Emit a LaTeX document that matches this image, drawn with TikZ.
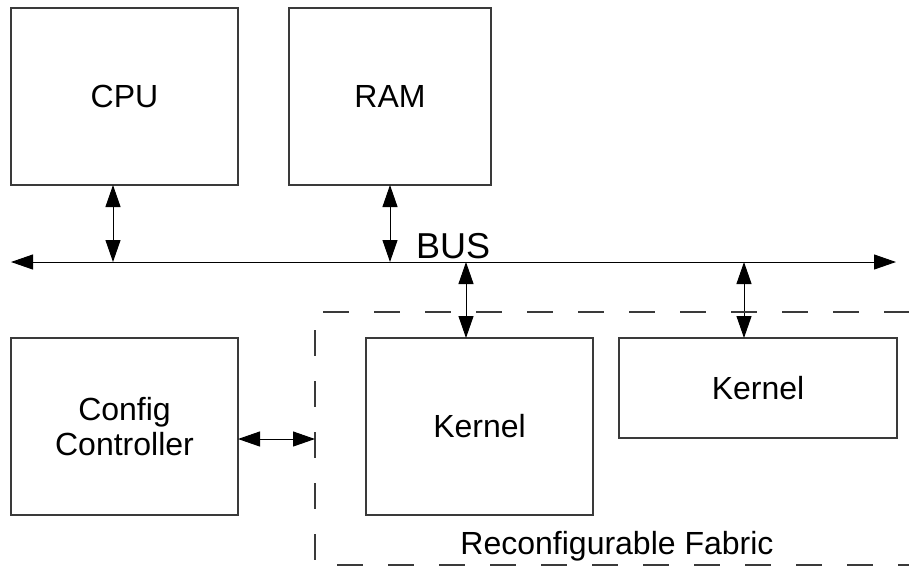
\documentclass[tikz,border=0pt]{standalone}
\usepackage{fontspec}
\setmainfont{Liberation Sans}
\usetikzlibrary{arrows.meta}
\definecolor{edge}{HTML}{3A3A3A}
\begin{document}
\begin{tikzpicture}[x=1pt,y=-1pt,
  box/.style={draw=edge,line width=1.4pt,inner sep=0pt,outer sep=0pt,
    font=\fontsize{32pt}{35pt}\selectfont,align=center},
  biarrow/.style={line width=1pt,{Triangle[length=22pt,width=15pt]}-{Triangle[length=22pt,width=15pt]}},
  dashline/.style={draw=edge,line width=1.4pt,dash pattern=on 26pt off 25pt},
  lbl/.style={font=\fontsize{32pt}{35pt}\selectfont,inner sep=0pt}]
\useasboundingbox (0,0) rectangle (909,566);
% boxes
\node[box,minimum width=227pt,minimum height=177pt] (cpu) at (124.5,96.5) {CPU};
\node[box,minimum width=202pt,minimum height=177pt] (ram) at (390,96.5) {RAM};
\node[box,minimum width=227pt,minimum height=177pt] (cfg) at (124.5,426.5) {Config\\Controller};
\node[box,minimum width=227pt,minimum height=177pt] (k1) at (479.5,426.5) {Kernel};
\node[box,minimum width=278pt,minimum height=100pt] (k2) at (758,388) {Kernel};
% bus
\coordinate (busL) at (11,262);
\coordinate (busR) at (896,262);
\draw[biarrow] (busL) -- (busR);
\node[inner sep=0pt,anchor=base west,font=\fontsize{36pt}{38pt}\selectfont] (buslbl) at (416,258) {BUS};
\coordinate (b1) at (113,262);
\coordinate (b3) at (466,262);
\coordinate (b4) at (744,262);
\draw[biarrow] (b1 |- cpu.south) -- (b1);
\draw[biarrow] (ram.south) -- (ram.south |- busL);
\draw[biarrow] (b3) -- (b3 |- k1.north);
\draw[biarrow] (b4) -- (b4 |- k2.north);
% fabric region
\coordinate (fTL) at (323,312);
\coordinate (fTR) at (909,312);
\coordinate (fLT) at (315,330);
\coordinate (fLB) at (315,566);
\coordinate (fBL) at (337,565);
\coordinate (fBR) at (909,565);
\draw[dashline] (fTL) -- (fTR);
\draw[dashline] (fLT) -- (fLB);
\draw[dashline] (fBL) -- (fBR);
\coordinate (fab) at (315,439);
\draw[biarrow] (cfg.east |- fab) -- (fab);
\node[lbl,anchor=base] (fablbl) at (617,554) {Reconfigurable Fabric};
\end{tikzpicture}
\end{document}
